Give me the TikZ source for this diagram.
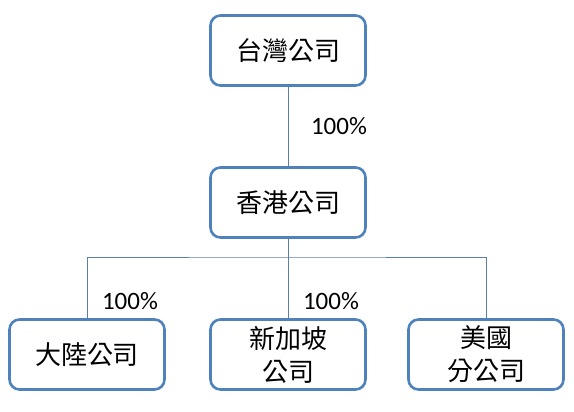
\documentclass[tikz,border=0pt]{standalone}
\usepackage{fontspec}
\setmainfont{Carlito}
\newfontfamily\cjk{Noto Sans CJK TC}
\usetikzlibrary{shapes.geometric, arrows}
\definecolor{boxblue}{HTML}{4F81BD}
\definecolor{lineblue}{HTML}{5A7FA8}
\tikzstyle{company} = [rectangle, rounded corners=10pt, minimum width=155pt, minimum height=70pt, text centered, align=center, draw=boxblue, line width=2.6pt, font=\cjk\fontsize{26}{33}\selectfont]
\tikzstyle{pct} = [inner sep=0pt, font=\fontsize{25}{28}\selectfont]
\tikzstyle{link} = [draw=lineblue, line width=0.9pt]

\begin{document}
\begin{tikzpicture}[x=1pt, y=1pt, node distance=152pt]
    \useasboundingbox (0,0) rectangle (574,412);
    \node (tw) [company] at (288,361.5) {台灣公司};
    \node (hk) [company, below of=tw] {香港公司};
    \node (sg) [company, below of=hk] {新加坡\\公司};
    \node (cn) [company, below of=hk, xshift=-201pt] {大陸公司};
    \node (us) [company, below of=hk, xshift=198pt] {美國\\分公司};
    \coordinate (bar) at (288,155);
    \node (p1) [pct] at (339,285.5) {100\%};
    \node (p2) [pct] at (130,110.5) {100\%};
    \node (p3) [pct] at (331,110.5) {100\%};
    \draw [link] (tw) -- (hk);
    \draw [link] (hk) -- (sg);
    \draw [link] (cn.north) |- (bar) -| (us.north);

\end{tikzpicture}
\end{document}
